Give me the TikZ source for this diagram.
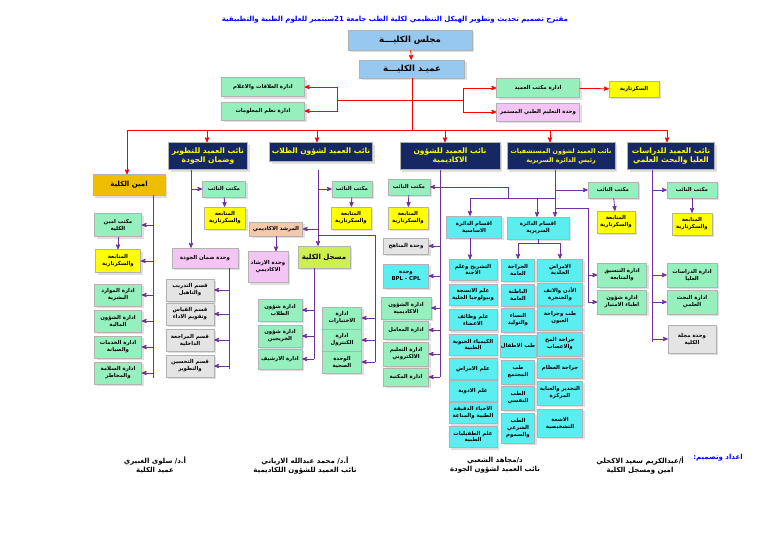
\documentclass[tikz,border=0pt]{standalone}
\usepackage{fontspec}
\newfontfamily\arfont[Script=Arabic]{DejaVu Sans}
\usetikzlibrary{arrows,positioning,shadows}
\TeXXeTstate=1
\newcommand\ar[1]{\beginR #1\endR}
\definecolor{mint}{RGB}{150,240,190}
\definecolor{yel}{RGB}{255,255,0}
\definecolor{cya}{RGB}{90,238,240}
\definecolor{navy}{RGB}{22,40,100}
\definecolor{pnk}{RGB}{244,196,244}
\definecolor{pch}{RGB}{244,200,170}
\definecolor{gry}{RGB}{228,228,228}
\definecolor{lim}{RGB}{205,240,80}
\definecolor{gld}{RGB}{240,190,0}
\definecolor{sky}{RGB}{150,200,240}
\definecolor{prp}{RGB}{112,48,160}
\begin{document}
\begin{tikzpicture}[x=1pt,y=-1pt,>=stealth',
	box/.style={draw=gray!60,fill=#1,align=center,inner sep=1pt,
		font=\arfont\bfseries\fontsize{5.4}{6.8}\selectfont,drop shadow={opacity=.25}},
	wh/.style 2 args={minimum width=#1,minimum height=#2},
	vp/.style={box=navy,text=yel,font=\arfont\bfseries\fontsize{7.5}{9.5}\selectfont},
	rl/.style={draw=red,thick},
	pl/.style={draw=prp,thick},
	sig/.style={font=\arfont\bfseries\fontsize{7}{9}\selectfont,align=center}]
	\useasboundingbox (0,0) rectangle (768,543);
	
	% top
	\node[font=\arfont\bfseries\fontsize{7}{8}\selectfont,text=blue] (ttl) at (395,20) {\ar{مقترح تصميم تحديث وتطوير الهيكل التنظيمي لكلية الطب جامعة 21سبتمبر للعلوم الطبية والتطبيقية}};
	\node[box=sky,wh={124}{20},font=\arfont\bfseries\fontsize{8.5}{9}\selectfont] (mjl) at (410,40) {\ar{مجلس الكليـــة}};
	\node[box=sky,wh={105}{18},font=\arfont\bfseries\fontsize{8.5}{9}\selectfont] (dean) at (412,69) {\ar{عميـد الكليـــة}};
	\node[box=mint,wh={83}{19}] (rel) at (263,87) {\ar{ادارة العلاقات والاعلام}};
	\node[box=mint,wh={83}{18}] (info) at (263,111) {\ar{ادارة نظم المعلومات}};
	\node[box=mint,wh={83}{19}] (dof) at (538,88) {\ar{ادارة مكتب العميد}};
	\node[box=pnk,wh={83}{18}] (cme) at (538,112) {\ar{وحدة التعليم  الطبي المستمر}};
	\node[box=yel,wh={50}{16}] (sec) at (634,89) {\ar{السكرتارية}};
	
	\draw[rl,->] (mjl) -- (dean);
	\coordinate (dl) at (337,100);
	\coordinate (dr) at (463,100);
	\draw[rl] (dean.south) -- (412,130) (dl) -- (dr);
	\draw[rl,->] (dl) |- (rel.east);
	\draw[rl,->] (dl) |- (info.east);
	\draw[rl,->] (dr) |- (dof.west);
	\draw[rl,->] (dr) |- (cme.west);
	\draw[rl,->] (dof) -- (sec);
	
	% vice deans
	\node[box=gld,wh={72}{21},font=\arfont\bfseries\fontsize{7}{8}\selectfont] (amin) at (129,185) {\ar{امين الكلية}};
	\node[vp,wh={79}{27}] (vp1) at (208,156) {\ar{نائب العميد للتطوير}\\\ar{وضمان الجودة}};
	\node[vp,wh={103}{19}] (vp2) at (321,152) {\ar{نائب العميد لشؤون الطلاب}};
	\node[vp,wh={100}{27}] (vp3) at (450,156) {\ar{نائب العميد للشؤون}\\\ar{الاكاديمية}};
	\node[vp,wh={108}{27},font=\arfont\bfseries\fontsize{6.3}{9}\selectfont] (vp4) at (561,156) {\ar{نائب العميد لشؤون المستشفيات}\\\ar{رئيس الدائرة السريرية}};
	\node[vp,wh={87}{27}] (vp5) at (671,156) {\ar{نائب العميد للدراسات}\\\ar{العليا  والبحث العلمي}};
	\draw[rl] (127,130) -- (667,130);
	\foreach \n/\x in {amin/127,vp1/207,vp2/317,vp3/445,vp4/550,vp5/667}
		\draw[rl,->] (\x,130) -- (\n.north -| \x,0);
	
	% amin
	\node[box=mint,wh={47}{23}] (amk) at (118,225) {\ar{مكتب امين}\\\ar{الكلية}};
	\node[box=yel,wh={45}{23}] (ams) at (118,261) {\ar{المتابعة}\\\ar{والسكرتارية}};
	\node[box=mint,wh={47}{22}] (am1) at (118,295) {\ar{ادارة الموارد}\\\ar{البشرية}};
	\node[box=mint,wh={47}{22}] (am2) at (118,321) {\ar{ادارة الشؤون}\\\ar{المالية}};
	\node[box=mint,wh={47}{22}] (am3) at (118,347) {\ar{ادارة الخدمات}\\\ar{والصيانة}};
	\node[box=mint,wh={47}{22}] (am4) at (118,373) {\ar{ادارة السلامة}\\\ar{والمخاطر}};
	\coordinate (ta) at (153,195);
	\draw[pl] (ta) -- (153,378);
	\foreach \n in {amk,ams,am1,am2,am3,am4}
		\draw[pl,->] (ta |- \n.east) -- (\n.east);
	\draw[pl,->] (amk) -- (ams);
	
	% vp1
	\node[box=mint,wh={43}{16}] (mk1) at (224,189) {\ar{مكتب النائب}};
	\node[box=yel,wh={41}{22}] (sc1) at (225,218) {\ar{المتابعة}\\\ar{والسكرتارية}};
	\node[box=pnk,wh={66}{20}] (qa) at (205,258) {\ar{وحدة ضمان الجودة}};
	\node[box=gry,wh={48}{22}] (q1) at (190,290) {\ar{قسم التدريب}\\\ar{والتاهيل}};
	\node[box=gry,wh={48}{22}] (q2) at (190,314) {\ar{قسم القياس}\\\ar{وتقويم الاداء}};
	\node[box=gry,wh={48}{22}] (q3) at (190,340) {\ar{قسم المراجعة}\\\ar{الداخلية}};
	\node[box=gry,wh={48}{22}] (q4) at (190,366) {\ar{قسم التحسين}\\\ar{والتطوير}};
	\coordinate (t1) at (191,170);
	\draw[pl,->] (t1) -- (qa.north -| t1);
	\draw[pl,->] (t1 |- mk1.west) -- (mk1.west);
	\draw[pl,->] (mk1) -- (sc1);
	\coordinate (tq) at (229,268);
	\draw[pl] (tq) -- (229,369);
	\foreach \n in {q1,q2,q3,q4}
		\draw[pl,->] (tq |- \n.east) -- (\n.east);
	
	% vp2
	\node[box=mint,wh={40}{16}] (mk2) at (352,189) {\ar{مكتب النائب}};
	\node[box=yel,wh={40}{22}] (sc2) at (351,218) {\ar{المتابعة}\\\ar{والسكرتارية}};
	\node[box=pch,wh={53}{14}] (mrs) at (276,229) {\ar{المرشد الاكاديمي}};
	\node[box=pnk,wh={40}{31}] (irs) at (268,267) {\ar{وحدة الارشاد}\\\ar{الاكاديمي}};
	\node[box=lim,wh={52}{22},font=\arfont\bfseries\fontsize{7}{8}\selectfont] (reg) at (324,257) {\ar{مسجل الكلية}};
	\node[box=mint,wh={44}{22}] (r1) at (280,310) {\ar{ادارة شؤون}\\\ar{الطلاب}};
	\node[box=mint,wh={44}{22}] (r2) at (280,336) {\ar{ادارة شؤون}\\\ar{الخريجين}};
	\node[box=mint,wh={44}{20}] (r3) at (280,359) {\ar{ادارة الارشيف}};
	\node[box=mint,wh={39}{22}] (x1) at (342,318) {\ar{ادارة}\\\ar{الاختبارات}};
	\node[box=mint,wh={39}{22}] (x2) at (342,340) {\ar{ادارة}\\\ar{الكنترول}};
	\node[box=mint,wh={39}{22}] (x3) at (342,362) {\ar{الوحدة}\\\ar{الصحية}};
	\coordinate (t2) at (318,170);
	\draw[pl,->] (t2) -- (reg.north -| t2);
	\draw[pl,->] (t2 |- mk2.west) -- (mk2.west);
	\draw[pl,->] (mk2) -- (sc2);
	\draw[pl,->] (t2 |- mrs.east) -- (mrs.east);
	\draw[pl,->] (mrs) -- (irs.north -| mrs);
	\coordinate (tx) at (375,235);
	\draw[pl] (t2 |- tx) -- (tx) -- (375,362);
	\foreach \n in {x1,x2,x3}
		\draw[pl,->] (tx |- \n.east) -- (\n.east);
	\coordinate (tr) at (314,268);
	\draw[pl] (tr) -- (314,359);
	\foreach \n in {r1,r2,r3}
		\draw[pl,->] (tr |- \n.east) -- (\n.east);
	
	% vp3
	\node[box=mint,wh={42}{16}] (mk3) at (409,187) {\ar{مكتب النائب}};
	\node[box=yel,wh={40}{22}] (sc3) at (408,218) {\ar{المتابعة}\\\ar{والسكرتارية}};
	\node[box=gry,wh={45}{16}] (a1) at (406,246) {\ar{وحدة المناهج}};
	\node[box=cya,wh={45}{24}] (a2) at (406,276) {\ar{وحدة}\\BPL - CPL};
	\node[box=mint,wh={50}{22}] (a3) at (406,308) {\ar{ادارة الشؤون}\\\ar{الاكاديمية}};
	\node[box=mint,wh={45}{18}] (a4) at (406,330) {\ar{ادارة المعامل}};
	\node[box=mint,wh={45}{24}] (a5) at (406,354) {\ar{ادارة التعليم}\\\ar{الالكتروني}};
	\node[box=mint,wh={45}{18}] (a6) at (406,377) {\ar{ادارة المكتبة}};
	\coordinate (t3) at (440,170);
	\draw[pl] (t3) -- (440,377);
	\foreach \n in {mk3,a1,a2,a3,a4,a5,a6}
		\draw[pl,->] (t3 |- \n.east) -- (\n.east);
	\draw[pl,->] (mk3) -- (sc3);
	
	% departments
	\node[box=cya,wh={55}{22}] (bas) at (474,227) {\ar{اقسام الدائرة}\\\ar{الاساسية}};
	\node[box=cya,wh={62}{22}] (cln) at (538,228) {\ar{اقسام الدائرة}\\\ar{السريرية}};
	\draw[pl] (t3 |- mk3.east) -- (508,187) -- (508,198);
	\draw[pl] (470,198) -- (555,198);
	\draw[pl,->] (470,198) -- (bas.north -| 470,0);
	\draw[pl,->] (537,198) -- (cln.north -| 537,0);
	\foreach \n/\y/\t in {b1/270/{\ar{التشريح وعلم}\\\ar{الاجنة}},b2/295/{\ar{علم الانسجة}\\\ar{وبيولوجيا الخلية}},
		b3/320/{\ar{علم وظائف}\\\ar{الاعضاء}},b4/345/{\ar{الكيمياء الحيوية}\\\ar{الطبية}},
		b5/369/{\ar{علم الامراض}},b6/391/{\ar{علم الادوية}},
		b7/413/{\ar{الاحياء الدقيقة}\\\ar{الطبية والمناعة}},b8/437/{\ar{علم الطفيليات}\\\ar{الطبية}}}
		\node[box=cya,wh={48}{21}] (\n) at (473,\y) {\t};
	\draw[pl,->] (bas.south -| 470,0) -- (b1.north -| 470,0);
	\foreach \n/\y/\h/\t in {c1/270/22/{\ar{الجراحة}\\\ar{العامة}},c2/295/22/{\ar{الباطنة}\\\ar{العامة}},
		c3/320/24/{\ar{النساء}\\\ar{والتوليد}},c4/346/22/{\ar{طب الاطفال}},
		c5/372/24/{\ar{طب}\\\ar{المجتمع}},c6/398/24/{\ar{الطب}\\\ar{النفسي}},
		c7/428/30/{\ar{الطب}\\\ar{الشرعي}\\\ar{والسموم}}}
		\node[box=cya,wh={33}{\h}] (\n) at (518,\y) {\t};
	\foreach \n/\y/\h/\t in {d1/270/22/{\ar{الامراض}\\\ar{الجلدية}},d2/294/22/{\ar{الأذن والانف}\\\ar{والحنجرة}},
		d3/318/24/{\ar{طب وجراحة}\\\ar{العيون}},d4/344/24/{\ar{جراحة المخ}\\\ar{والاعصاب}},
		d5/368/20/{\ar{جراحة العظام}},d6/393/24/{\ar{التخدير والعناية}\\\ar{المركزة}},
		d7/423/28/{\ar{الاشعة}\\\ar{التشخيصية}}}
		\node[box=cya,wh={45}{\h}] (\n) at (560,\y) {\t};
	\draw[pl] (cln.south) -- (538,243) (518,243) -- (560,243);
	\draw[pl,->] (518,243) -- (c1.north);
	\draw[pl,->] (560,243) -- (d1.north);
	
	% vp4
	\node[box=mint,wh={50}{16}] (mk4) at (613,190) {\ar{مكتب النائب}};
	\node[box=yel,wh={38}{22}] (sc4) at (616,222) {\ar{المتابعة}\\\ar{والسكرتارية}};
	\node[box=mint,wh={49}{24}] (h1) at (622,275) {\ar{ادارة التنسيق}\\\ar{والمتابعة}};
	\node[box=mint,wh={49}{24}] (h2) at (622,302) {\ar{ادارة شؤون}\\\ar{اطباء الامتياز}};
	\coordinate (t4) at (555,170);
	\draw[pl,->] (t4) -- (cln.north -| t4);
	\draw[pl,->] (t4 |- mk4.west) -- (mk4.west);
	\draw[pl,->] (mk4) -- (sc4);
	\coordinate (th) at (588,208);
	\draw[pl] (t4 |- th) -- (th) -- (588,302);
	\foreach \n in {h1,h2}
		\draw[pl,->] (th |- \n.west) -- (\n.west);
	
	% vp5
	\node[box=mint,wh={50}{16}] (mk5) at (692,190) {\ar{مكتب النائب}};
	\node[box=yel,wh={40}{22}] (sc5) at (692,224) {\ar{المتابعة}\\\ar{والسكرتارية}};
	\node[box=mint,wh={50}{24}] (g1) at (692,275) {\ar{ادارة الدراسات}\\\ar{العليا}};
	\node[box=mint,wh={50}{24}] (g2) at (692,302) {\ar{ادارة البحث}\\\ar{العلمي}};
	\node[box=gry,wh={48}{28}] (g3) at (692,339) {\ar{وحدة مجلة}\\\ar{الكلية}};
	\coordinate (t5) at (652,170);
	\draw[pl] (t5) -- (652,342);
	\foreach \n in {mk5,g1,g2,g3}
		\draw[pl,->] (t5 |- \n.west) -- (\n.west);
	\draw[pl,->] (mk5) -- (sc5);
	
	% signatures
	\node[sig,text=blue] (des) at (718,458) {\ar{اعداد وتصميم:}};
	\node[sig] (s1) at (640,465) {\ar{أ/عبدالكريم سعيد الاكحلي}\\\ar{امين ومسجل الكلية}};
	\node[sig] (s2) at (495,465) {\ar{د/مجاهد الشعبي}\\\ar{نائب العميد لشؤون الجودة}};
	\node[sig] (s3) at (305,465) {\ar{أ.د/ محمد عبدالله الارياني}\\\ar{نائب العميد للشؤون اللكاديمية}};
	\node[sig] (s4) at (155,465) {\ar{أ.د/ سلوى الغبيري}\\\ar{عميد الكلية}};
\end{tikzpicture}
\end{document}
